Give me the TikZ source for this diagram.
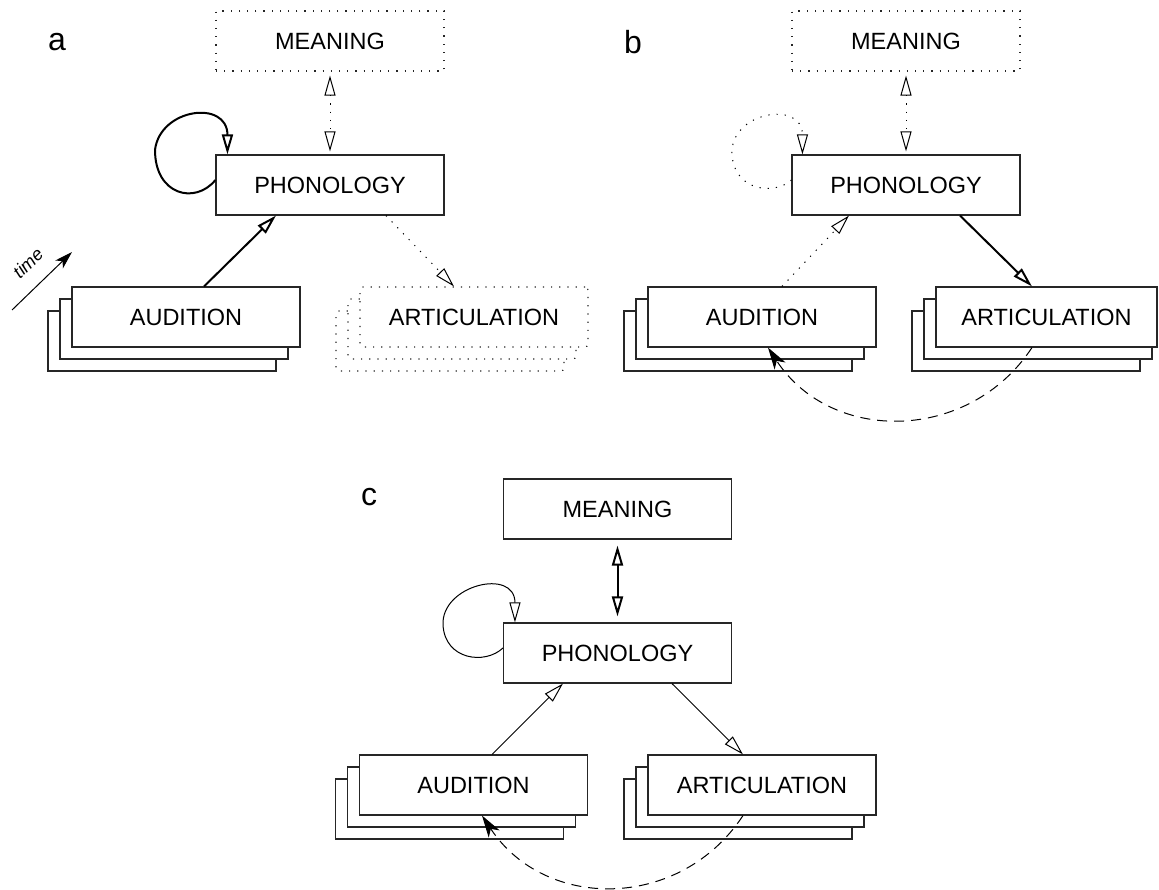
\documentclass[tikz,border=0pt]{standalone}
\usepackage{fontspec}
\setmainfont{Liberation Sans}
\usetikzlibrary{arrows.meta}
\begin{document}
\begin{tikzpicture}[x=1pt,y=-1pt,
  box/.style={draw=black!85, line width=1.1pt, fill=white, minimum width=228pt, minimum height=60pt, inner sep=0pt, font=\fontsize{23.5}{28}\selectfont},
  dotbox/.style={box, dash pattern=on 1.2pt off 7pt},
  artdot/.style={dotbox, rounded corners=3pt},
  lbl/.style={font=\fontsize{32}{36}\selectfont, inner sep=0pt},
  dotline/.style={line width=1pt, dash pattern=on 1.2pt off 7pt},
  thinline/.style={line width=1pt},
  thickline/.style={line width=2pt},
  dashline/.style={line width=1pt, dash pattern=on 10pt off 7pt},
  oarrow/.style={-{Triangle[open, length=20pt, width=11pt, line width=1pt]}},
  othick/.style={-{Triangle[open, length=20pt, width=11pt, line width=2pt]}},
  obiarrow/.style={{Triangle[open, length=20pt, width=11pt, line width=1pt]}-{Triangle[open, length=20pt, width=11pt, line width=1pt]}},
  obithick/.style={{Triangle[open, length=20pt, width=11pt, line width=2pt]}-{Triangle[open, length=20pt, width=11pt, line width=2pt]}},
  farrow/.style={-{Stealth[length=22pt, width=13pt, inset=6pt]}},
  tarrow/.style={-{Stealth[length=18pt, width=11pt, inset=5pt]}}
]
\useasboundingbox (0,0) rectangle (1159,890);

% ---------- panel a ----------
\node[lbl] (la) at (57,42) {a};
\node[dotbox] (aMean) at (330,41) {MEANING};
\node[box] (aPhon) at (330,185) {PHONOLOGY};
\node[box] (aAud3) at (162,341) {};
\node[box] (aAud2) at (174,329) {};
\node[box] (aAud) at (186,317) {AUDITION};
\node[artdot] (aArt3) at (450,341) {};
\node[artdot] (aArt2) at (462,329) {};
\node[artdot] (aArt) at (474,317) {ARTICULATION};

\draw[dotline, obiarrow, shorten <=4pt, shorten >=3pt] (aMean) -- (aPhon);
\draw[thickline, othick] ([xshift=18pt]aAud.north) -- ([xshift=-54pt]aPhon.south);
\draw[dotline, oarrow] ([xshift=56pt]aPhon.south) -- ([xshift=-20pt]aArt.north);
\draw[thickline, othick] ([yshift=5pt]aPhon.west) .. controls (195,205) and (155,195) .. (155,150)
  .. controls (160,108) and ([xshift=12pt,yshift=55pt]aPhon.north west) .. ([xshift=12pt]aPhon.north west);

\coordinate (t0) at (12,310);
\coordinate (t1) at (72,252);
\draw[thinline, tarrow] (t0) -- (t1);
\node[font=\itshape\fontsize{18}{20}\selectfont, rotate=44, inner sep=0pt] (time) at (28,263) {time};

% ---------- panel b ----------
\node[lbl] (lb) at (633,42) {b};
\node[dotbox] (bMean) at (906,41) {MEANING};
\node[box] (bPhon) at (906,185) {PHONOLOGY};
\node[box] (bAud3) at (738,341) {};
\node[box] (bAud2) at (750,329) {};
\node[box] (bAud) at (762,317) {AUDITION};
\node[box] (bArt3) at (1026,341) {};
\node[box] (bArt2) at (1038,329) {};
\node[box, minimum width=221pt] (bArt) at (1046.5,317) {ARTICULATION};

\draw[dotline, obiarrow, shorten <=4pt, shorten >=3pt] (bMean) -- (bPhon);
\draw[dotline, oarrow] ([xshift=20pt]bAud.north) -- ([xshift=-57pt]bPhon.south);
\draw[thickline, othick] ([xshift=54pt]bPhon.south) -- ([xshift=-14.5pt]bArt.north);
\draw[dotline, oarrow] ([yshift=5pt]bPhon.west) .. controls (775,195) and (735,192) .. (732,155)
  .. controls (729,112) and ([xshift=11pt,yshift=55pt]bPhon.north west) .. ([xshift=11pt]bPhon.north west);
\draw[dashline, farrow] ([xshift=-14.5pt]bArt.south) .. controls (969,443) and (831,444) .. ([xshift=6pt]bAud.south);

% ---------- panel c ----------
\node[lbl] (lc) at (369,497) {c};
\node[box] (cMean) at (617.5,509) {MEANING};
\node[box] (cPhon) at (617.5,653) {PHONOLOGY};
\node[box] (cAud3) at (449.5,809) {};
\node[box] (cAud2) at (461.5,797) {};
\node[box] (cAud) at (473.5,785) {AUDITION};
\node[box] (cArt3) at (738,809) {};
\node[box] (cArt2) at (750,797) {};
\node[box] (cArt) at (762,785) {ARTICULATION};

\draw[thickline, obithick, shorten <=6pt, shorten >=6pt] (cMean) -- (cPhon);
\draw[thinline, oarrow] ([xshift=18.5pt]cAud.north) -- ([xshift=-54.5pt]cPhon.south);
\draw[thinline, oarrow] ([xshift=54.5pt]cPhon.south) -- ([xshift=-19pt]cArt.north);
\draw[thinline, oarrow] ([yshift=5pt]cPhon.west) .. controls (485,665) and (445,660) .. (443,625)
  .. controls (441,585) and ([xshift=12pt,yshift=55pt]cPhon.north west) .. ([xshift=12pt]cPhon.north west);
\draw[dashline, farrow] ([xshift=-19pt]cArt.south) .. controls (680,911) and (545,911) .. ([xshift=8.5pt]cAud.south);
\end{tikzpicture}
\end{document}
